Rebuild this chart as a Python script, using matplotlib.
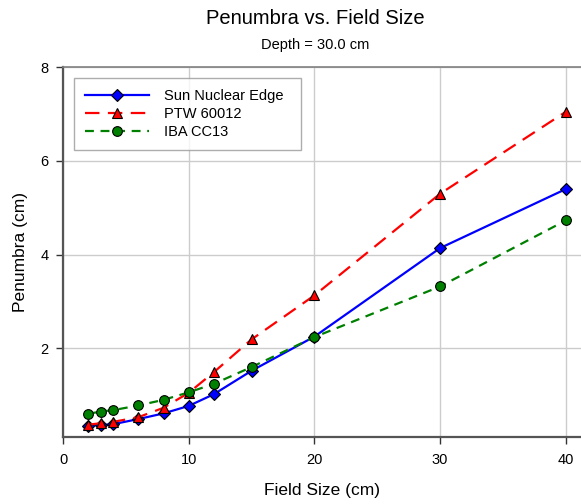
import matplotlib
matplotlib.use("Agg")
import matplotlib.pyplot as plt
from matplotlib.ticker import FixedLocator

plt.rcParams['font.family'] = ['Liberation Sans', 'DejaVu Sans']

field_size = [2, 3, 4, 6, 8, 10, 12, 15, 20, 30, 40]
sun_nuclear = [0.35, 0.36, 0.38, 0.49, 0.61, 0.77, 1.02, 1.52, 2.25, 4.14, 5.40]
ptw_60012 = [0.37, 0.40, 0.43, 0.53, 0.73, 1.05, 1.49, 2.19, 3.13, 5.30, 7.05]
iba_cc13 = [0.60, 0.65, 0.68, 0.78, 0.90, 1.06, 1.24, 1.60, 2.24, 3.32, 4.73]
labels = ["Sun Nuclear Edge", "PTW 60012", "IBA CC13"]
xticks = [0, 10, 20, 30, 40]
yticks = [2, 4, 6, 8]

fig = plt.figure(figsize=(5.81, 5.04), dpi=100)
ax = fig.add_axes([63/581, (504-437.3)/504, (581-63)/581, (437.3-67.3)/504])

ax.plot(field_size, sun_nuclear, color='#0000ff', lw=1.6, marker='D', ms=6.5,
        mfc='#0000ff', mec='black', mew=0.8, label=labels[0], zorder=3)
ax.plot(field_size, ptw_60012, color='#ff0000', lw=1.6, dashes=(6.5, 3.8), marker='^', ms=7,
        mfc='#ff0000', mec='black', mew=0.8, label=labels[1], zorder=3)
ax.plot(field_size, iba_cc13, color='#008000', lw=1.6, dashes=(4, 3), marker='o', ms=7,
        mfc='#008000', mec='black', mew=0.8, label=labels[2], zorder=3)

ax.set_xlim(0, (581-63)/12.57)
ax.set_ylim(0.1, 8)
ax.xaxis.set_major_locator(FixedLocator(xticks))
ax.yaxis.set_major_locator(FixedLocator(yticks))
ax.grid(True, color='#cccccc', lw=1)
ax.set_axisbelow(True)

ax.spines['right'].set_visible(False)
ax.spines['top'].set_color('#808080')
ax.spines['top'].set_linewidth(1.2)
for s in ['left', 'bottom']:
    ax.spines[s].set_color('#555555')
    ax.spines[s].set_linewidth(1.6)
ax.tick_params(direction='out', length=5, width=1, color='#333333', labelsize=10.5)
ax.tick_params(axis='x', pad=6.5)
ax.tick_params(axis='y', pad=5.5)
ax.tick_params(top=False, right=False)

ax.set_xlabel("Field Size (cm)", fontsize=12.5, labelpad=11)
ax.set_ylabel("Penumbra (cm)", fontsize=12.5, labelpad=9)

fig.text(315.5/581, 1-18/504, "Penumbra vs. Field Size", ha='center', va='center', fontsize=14.5)
fig.text(315.5/581, 1-45/504, "Depth = 30.0 cm", ha='center', va='center', fontsize=10.5)

lx0 = (74-63)/518
lx1 = (301-63)/518
ly1 = 1-(78.3-67.3)/370
ly0 = 1-(151-67.3)/370
leg = ax.legend(loc='upper left', bbox_to_anchor=(lx0, ly0, lx1-lx0, ly1-ly0), mode='expand',
                fontsize=10.5, handlelength=4.4, frameon=True, fancybox=False,
                borderpad=0.75, labelspacing=0.28, handletextpad=1.0, borderaxespad=0)
leg.get_frame().set_edgecolor('#999999')
leg.get_frame().set_linewidth(1)

fig.savefig("out.png", dpi=100)
